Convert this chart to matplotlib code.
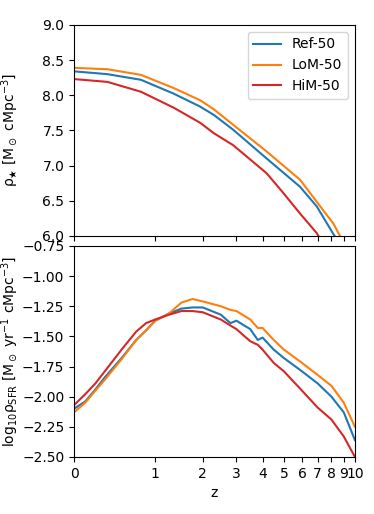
import numpy as np
import matplotlib
matplotlib.use("Agg")
import matplotlib.pyplot as plt

# stellar mass density
ref_z_ms = [0, 0.33, 0.77, 1.35, 1.93, 2.30, 2.89, 4.18, 5.88, 6.94, 8.14, 8.25]
ref_ms = [8.34, 8.30, 8.22, 8.02, 7.84, 7.72, 7.51, 7.10, 6.70, 6.42, 6.03, 6.00]
lom_z_ms = [0, 0.33, 0.77, 1.35, 1.93, 2.30, 2.89, 4.18, 5.88, 7.64, 8.14, 8.68]
lom_ms = [8.39, 8.37, 8.29, 8.10, 7.93, 7.80, 7.58, 7.20, 6.80, 6.30, 6.18, 6.00]
him_z_ms = [0, 0.33, 0.77, 1.35, 1.93, 2.30, 2.89, 4.18, 4.97, 5.88, 6.94, 7.05]
him_ms = [8.23, 8.19, 8.05, 7.82, 7.61, 7.46, 7.29, 6.89, 6.61, 6.32, 6.04, 6.00]

# star formation rate density
z_sfr = [0, 0.1, 0.2, 0.3, 0.5, 0.7, 0.85, 1, 1.25, 1.5, 1.75, 2, 2.5, 2.8, 3,
         3.5, 3.8, 4, 4.5, 5, 6, 7, 8, 9, 10]
ref_sfr = [-2.10, -2.04, -1.94, -1.84, -1.68, -1.53, -1.45, -1.37, -1.31, -1.27,
           -1.26, -1.26, -1.32, -1.39, -1.37, -1.44, -1.53, -1.51, -1.61, -1.68,
           -1.79, -1.89, -2.00, -2.13, -2.36]
lom_sfr = [-2.13, -2.05, -1.95, -1.86, -1.69, -1.53, -1.45, -1.37, -1.31, -1.22,
           -1.19, -1.21, -1.25, -1.28, -1.29, -1.36, -1.43, -1.43, -1.53, -1.61,
           -1.72, -1.82, -1.91, -2.05, -2.25]
him_sfr = [-2.07, -1.98, -1.89, -1.79, -1.61, -1.46, -1.39, -1.36, -1.32, -1.29,
           -1.29, -1.30, -1.36, -1.41, -1.44, -1.54, -1.57, -1.61, -1.72, -1.79,
           -1.95, -2.09, -2.19, -2.33, -2.50]

labels = ["Ref-50", "LoM-50", "HiM-50"]
colors = ["tab:blue", "tab:orange", "tab:red"]
z_ticks = [0, 1, 2, 3, 4, 5, 6, 7, 8, 9, 10]


def lz(z):
    return np.log10(1 + np.asarray(z, dtype=float))


fig = plt.figure(figsize=(3.74, 5.14), dpi=100)
ax_ms = fig.add_axes([0.198, 0.541, 0.751, 0.4105])
ax_sfr = fig.add_axes([0.198, 0.111, 0.751, 0.4105])

ms_data = [(ref_z_ms, ref_ms), (lom_z_ms, lom_ms), (him_z_ms, him_ms)]
for (z, v), lab, c in zip(ms_data, labels, colors):
    ax_ms.plot(lz(z), v, color=c, label=lab, lw=1.5)
for v, c in zip([ref_sfr, lom_sfr, him_sfr], colors):
    ax_sfr.plot(lz(z_sfr), v, color=c, lw=1.5)

for ax in (ax_ms, ax_sfr):
    ax.set_xlim(0, lz(10))
    ax.set_xticks(lz(z_ticks))
ax_ms.set_xticklabels([])
ax_sfr.set_xticklabels([str(t) for t in z_ticks])

ax_ms.set_ylim(6.0, 9.0)
ax_ms.set_yticks(np.arange(6.0, 9.01, 0.5))
ax_sfr.set_ylim(-2.5, -0.75)
ax_sfr.set_yticks(np.arange(-2.5, -0.74, 0.25))

ax_ms.set_ylabel(r"$\mathrm{\rho}_\bigstar\ [\rm M_\odot\ cMpc^{-3}]$")
ax_sfr.set_ylabel(r"$\mathrm{log}_{10}\mathrm{\rho}_{\rm SFR}\ [\rm M_\odot\ yr^{-1}\ cMpc^{-3}]$")
ax_ms.yaxis.set_label_coords(-0.19, 0.5)
ax_sfr.yaxis.set_label_coords(-0.19, 0.5)
ax_sfr.set_xlabel("z")
ax_ms.legend(loc="upper right")

fig.savefig("out.png", dpi=100)
